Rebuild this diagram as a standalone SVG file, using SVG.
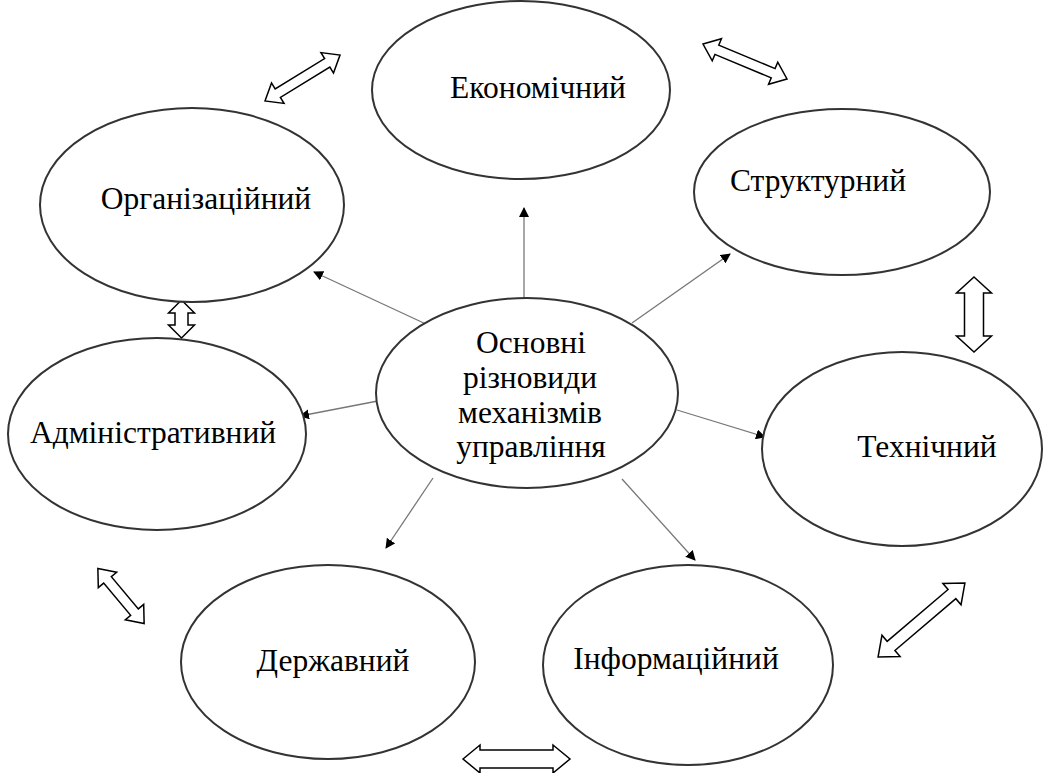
<svg xmlns="http://www.w3.org/2000/svg" width="1049" height="773" viewBox="0 0 1049 773">
<defs>
<style>
.node ellipse{fill:#fff;stroke:#333;stroke-width:2}
text{font-family:"Liberation Serif","Times New Roman",serif;font-size:31.5px;fill:#000;text-anchor:middle}
.conn line{stroke:#777;stroke-width:1.3;marker-end:url(#ah)}
.dbl polygon{fill:#fff;stroke:#000;stroke-width:1.5;stroke-linejoin:miter}
</style>
<marker id="ah" viewBox="0 0 10 10" refX="9" refY="5" markerWidth="10" markerHeight="10" markerUnits="userSpaceOnUse" orient="auto">
<path d="M0,0 L10,5 L0,10 Z" fill="#000"/>
</marker>
</defs>
<rect width="1049" height="773" fill="#fff"/>
<g id="connectors" class="conn">
<line x1="524" y1="298" x2="524" y2="208"/>
<line x1="428" y1="325" x2="314" y2="272"/>
<line x1="383" y1="400" x2="300" y2="416"/>
<line x1="632" y1="323" x2="730" y2="254"/>
<line x1="677" y1="410" x2="765" y2="437"/>
<line x1="433" y1="478" x2="386" y2="548"/>
<line x1="622" y1="479" x2="695" y2="560"/>
</g>
<g id="double-arrows" class="dbl">
<polygon transform="translate(302.5,78) rotate(-31.5)" points="-44,0 -29,-12 -29,-5 29,-5 29,-12 44,0 29,12 29,5 -29,5 -29,12"/>
<polygon transform="translate(745,61.5) rotate(22.6)" points="-45.5,0 -30.5,-12 -30.5,-5 30.5,-5 30.5,-12 45.5,0 30.5,12 30.5,5 -30.5,5 -30.5,12"/>
<polygon transform="translate(181.5,319) rotate(90)" points="-19,0 -6,-13 -6,-6.5 6,-6.5 6,-13 19,0 6,13 6,6.5 -6,6.5 -6,13"/>
<polygon transform="translate(974,314.5) rotate(90)" points="-37.5,0 -21.5,-17.5 -21.5,-9.5 21.5,-9.5 21.5,-17.5 37.5,0 21.5,17.5 21.5,9.5 -21.5,9.5 -21.5,17.5"/>
<polygon transform="translate(121,596) rotate(50)" points="-36,0 -21,-12 -21,-5 21,-5 21,-12 36,0 21,12 21,5 -21,5 -21,12"/>
<polygon transform="translate(921.5,620) rotate(-40.4)" points="-57,0 -40,-14 -40,-6 40,-6 40,-14 57,0 40,14 40,6 -40,6 -40,14"/>
<polygon transform="translate(516.5,759)" points="-53.5,0 -36.5,-14 -36.5,-9 36.5,-9 36.5,-14 53.5,0 36.5,14 36.5,9 -36.5,9 -36.5,14"/>
</g>
<g id="n-economic" class="node"><ellipse cx="521" cy="90" rx="149" ry="89"/><text x="538" y="98">Економічний</text></g>
<g id="n-organizational" class="node"><ellipse cx="192" cy="205" rx="152" ry="97"/><text x="206" y="209">Організаційний</text></g>
<g id="n-structural" class="node"><ellipse cx="842" cy="192" rx="148" ry="83"/><text x="818" y="191">Структурний</text></g>
<g id="n-center" class="node"><ellipse cx="527" cy="393" rx="151" ry="95"/>
<text x="531" y="353">Основні</text><text x="530" y="388">різновиди</text><text x="530" y="423">механізмів</text><text x="531" y="457">управління</text></g>
<g id="n-administrative" class="node"><ellipse cx="157" cy="434" rx="149" ry="96"/><text x="153" y="443">Адміністративний</text></g>
<g id="n-technical" class="node"><ellipse cx="902" cy="449" rx="140" ry="97"/><text x="927" y="457">Технічний</text></g>
<g id="n-state" class="node"><ellipse cx="328" cy="662" rx="147" ry="97"/><text x="333" y="671">Державний</text></g>
<g id="n-informational" class="node"><ellipse cx="688" cy="665" rx="145" ry="100"/><text x="676" y="669">Інформаційний</text></g>
</svg>
